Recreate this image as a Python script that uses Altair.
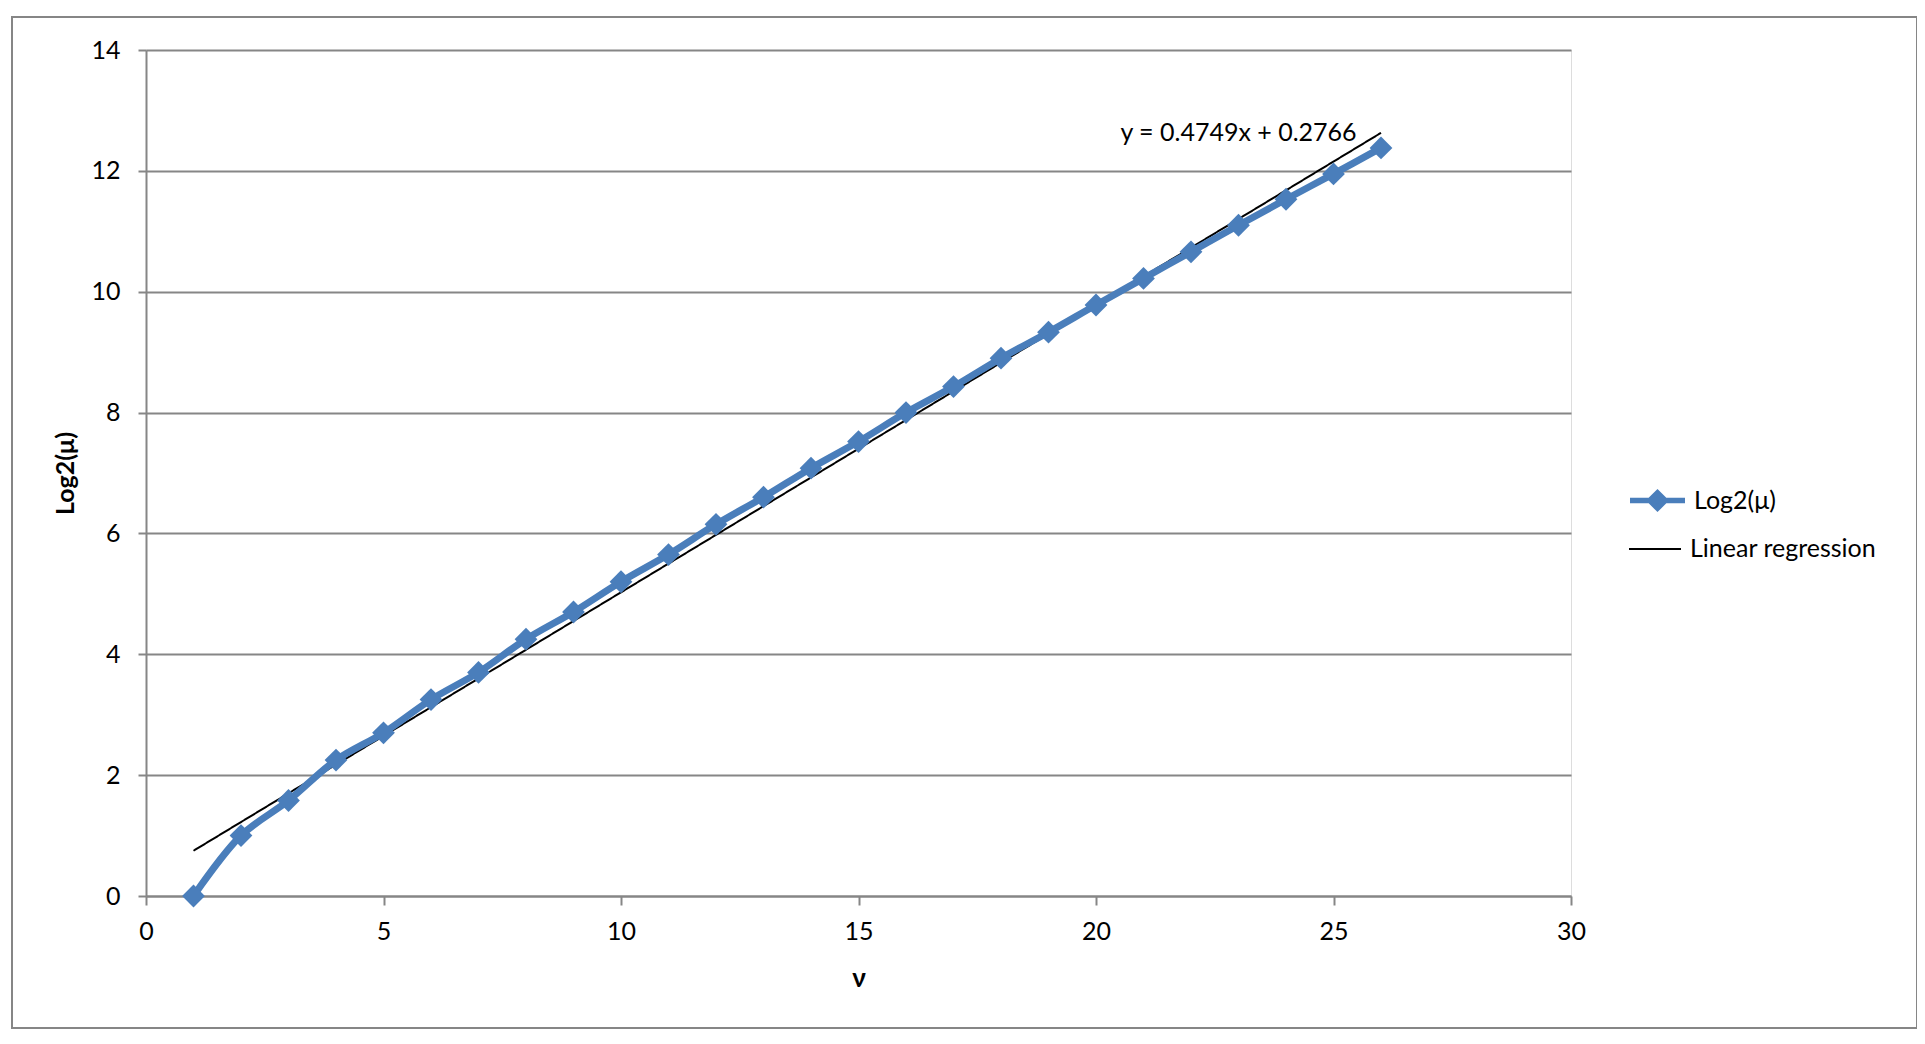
import altair as alt
import pandas as pd

# data
nu = list(range(1, 27))
log2_mu = [0.0, 1.0, 1.58, 2.25, 2.70, 3.25, 3.70, 4.25, 4.70, 5.20, 5.65, 6.15,
           6.60, 7.08, 7.52, 8.00, 8.43, 8.90, 9.33, 9.78, 10.22, 10.66, 11.10,
           11.53, 11.95, 12.38]
series_name = "Log2(μ)"
reg_name = "Linear regression"
equation_text = ["y = 0.4749x + 0.2766"]
equation_pos = [23.0, 12.62]

df = pd.DataFrame({"nu": nu, "log2mu": log2_mu})

FONT = "Lato"
BLUE = "#4A7EBB"
GRID = "#868686"

W, H = 1425, 846
PL, PT = 138, 42

xenc = alt.X("nu:Q", title="ν",
             scale=alt.Scale(domain=[0, 30], nice=False, zero=False),
             axis=alt.Axis(values=[0, 5, 10, 15, 20, 25, 30], grid=False,
                           format="d", labelFlush=False, labelOverlap=False,
                           tickSize=9, tickColor=GRID, domainColor=GRID,
                           domainWidth=2, tickWidth=2,
                           labelFont=FONT, labelFontSize=25, labelColor="black",
                           labelPadding=14, titleFont=FONT, titleFontSize=26,
                           titleFontWeight="bold", titleColor="black",
                           titlePadding=21))
yenc = alt.Y("log2mu:Q", title="Log2(μ)",
             scale=alt.Scale(domain=[0, 14], nice=False),
             axis=alt.Axis(values=list(range(0, 15, 2)), grid=True,
                           format="d", labelFlush=False, labelOverlap=False,
                           gridColor=GRID, gridWidth=2, gridOpacity=1,
                           tickSize=8, tickColor=GRID, domainColor=GRID,
                           domainWidth=2, tickWidth=2,
                           labelFont=FONT, labelFontSize=25, labelColor="black",
                           labelPadding=18, titleFont=FONT, titleFontSize=25,
                           titleFontWeight="bold", titleColor="black",
                           titlePadding=12))

base = alt.Chart(df)

border = alt.Chart(pd.DataFrame({"k": [0]})).mark_rect(
    fill=None, stroke=GRID, strokeWidth=2
).encode(
    x=alt.value(12 - 146), x2=alt.value(1917 - 146),
    y=alt.value(17 - 50), y2=alt.value(1028 - 50)
)

line = base.transform_calculate(series=f'"{series_name}"').mark_line(
    interpolate="catmull-rom", strokeWidth=7
).encode(
    x=xenc, y=yenc,
    color=alt.Color("series:N",
                    scale=alt.Scale(domain=[series_name], range=[BLUE]),
                    legend=alt.Legend(title=None, orient="none",
                                      legendX=1627 - 146, legendY=497 - 50 - 27,
                                      symbolType="M-1,0L1,0M-0.28,0L0,-0.28L0.28,0L0,0.28Z",
                                      symbolSize=55 * 55, symbolStrokeWidth=5.5,
                                      symbolFillColor=BLUE,
                                      labelFont=FONT, labelFontSize=25,
                                      labelColor="black", labelOffset=6,
                                      labelLimit=0, padding=0))
)

points = base.mark_point(shape="diamond", filled=True, size=520, color=BLUE,
                         opacity=1).encode(x="nu:Q", y="log2mu:Q")

reg = base.transform_regression("nu", "log2mu", extent=[1, 26]).transform_calculate(
    series2=f'"{reg_name}"'
).mark_line(color="black", strokeWidth=2).encode(
    x="nu:Q", y="log2mu:Q",
    strokeDash=alt.StrokeDash("series2:N",
                              scale=alt.Scale(domain=[reg_name], range=[[1, 0]]),
                              legend=alt.Legend(title=None, orient="none",
                                                legendX=1628 - 146,
                                                legendY=548 - 50 - 26,
                                                symbolType="stroke",
                                                symbolSize=52 * 52,
                                                symbolStrokeColor="black",
                                                symbolStrokeWidth=2,
                                                labelFont=FONT, labelFontSize=25,
                                                labelColor="black", labelOffset=8,
                                                labelLimit=0, padding=0))
)

eq = alt.Chart(pd.DataFrame({"t": equation_text, "x": [equation_pos[0]],
                             "y": [equation_pos[1]]})).mark_text(
    font=FONT, fontSize=25, color="black", align="center", baseline="middle"
).encode(x="x:Q", y="y:Q", text="t:N")

chart = alt.layer(border, reg, line, points, eq).properties(
    width=W, height=H,
    autosize=alt.AutoSizeParams(type="none"),
    padding={"left": PL, "top": PT, "right": 1909 - PL - W, "bottom": 1028 - PT - H},
).configure_view(stroke=None).configure(background="white")

chart.save("out.html", embed_options={"renderer": "svg", "actions": False})
